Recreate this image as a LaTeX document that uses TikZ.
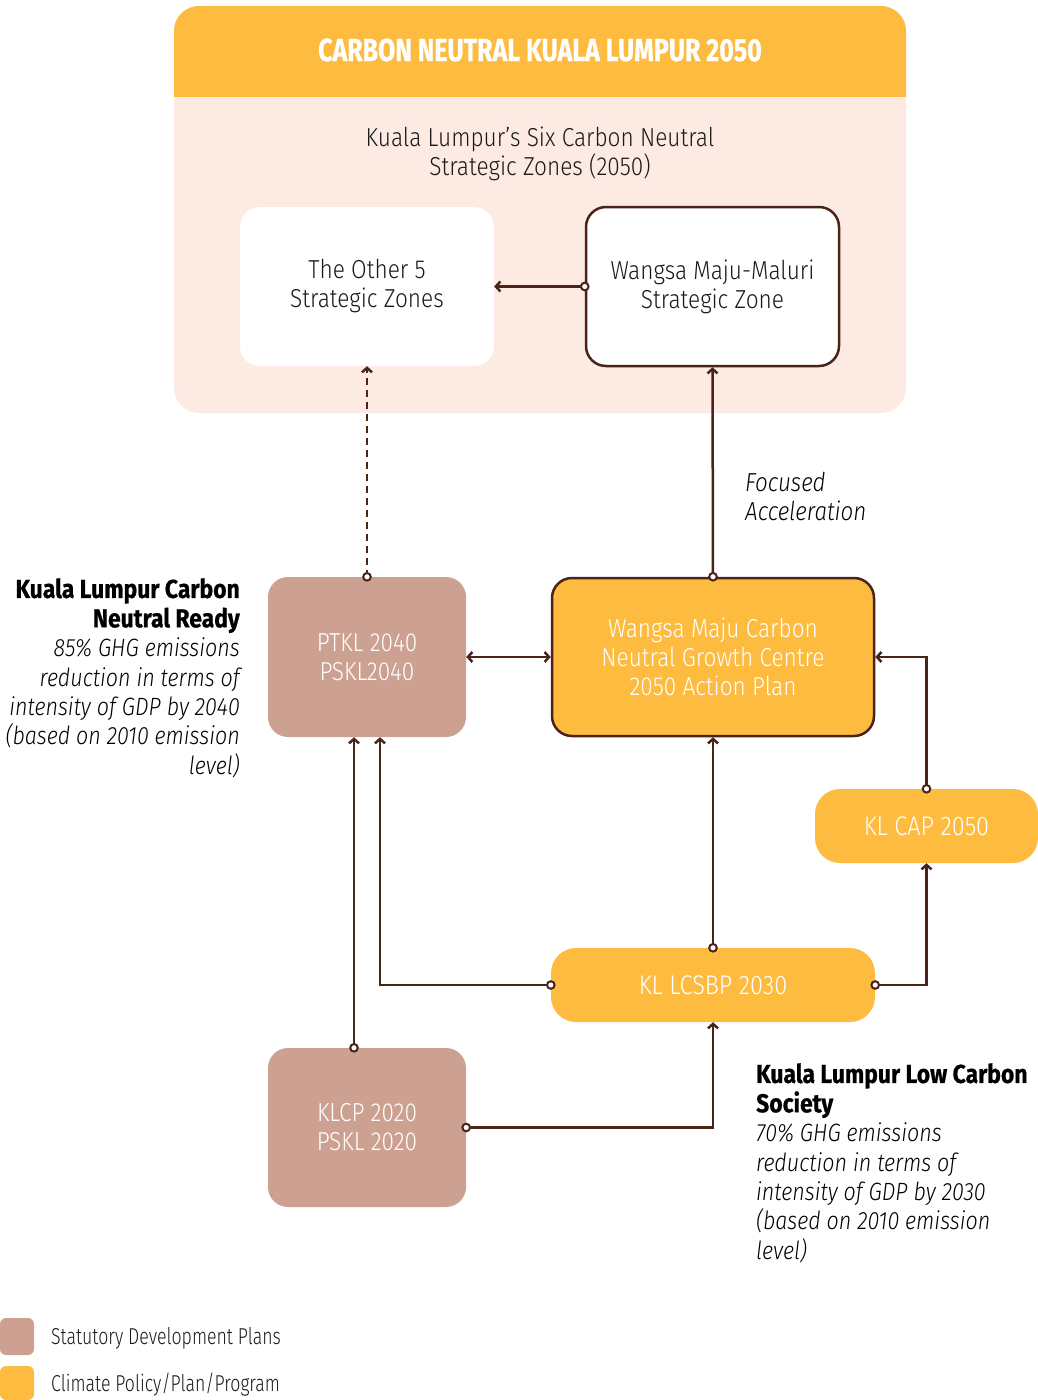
\documentclass[tikz,border=0pt]{standalone}
\usepackage{fontspec}
\setmainfont{Fira Sans}[FakeStretch=0.8]
\newfontfamily\lightf{Fira Sans Light}[FakeStretch=0.87]
\newfontfamily\legf{Fira Sans Light}[FakeStretch=0.77]
\newfontfamily\itf{Fira Sans Light}[FakeStretch=0.86]
\newfontfamily\boldf{Fira Sans}[FakeStretch=0.78, FakeBold=0.6]
\newfontfamily\notebf{Fira Sans}[FakeStretch=0.88, FakeBold=0.6]
\usetikzlibrary{arrows.meta}
\definecolor{kor}{HTML}{FDBB40}
\definecolor{ktan}{HTML}{CDA191}
\definecolor{kpink}{HTML}{FDEBE3}
\definecolor{kdark}{HTML}{4A2319}
\definecolor{ktext}{HTML}{1A1A1A}
\tikzset{
  boxtxt/.style={font=\lightf\fontsize{26}{29}\selectfont, text=white, align=center},
  statbox/.style={rectangle, rounded corners=20pt, fill=ktan, boxtxt},
  climbox/.style={rectangle, rounded corners=20pt, fill=kor, boxtxt},
  edged/.style={draw=kdark, line width=2.5pt},
  conn/.style={draw=kdark, line width=2.5pt, -{Straight Barb[length=4.5pt,width=10pt]}},
  dot/.style={draw=kdark, fill=white, line width=2pt},
}
\begin{document}
\begin{tikzpicture}[x=1pt,y=-1pt]
\useasboundingbox (0,0) rectangle (1038,1400);
% container
\fill[kpink, rounded corners=25pt] (174,6) rectangle (906,413);
\begin{scope}
\clip (170,0) rectangle (910,96);
\fill[kor, rounded corners=25pt] (174,6) rectangle (906,413);
\end{scope}
\node (title) at (540,50) {\boldf\bfseries\fontsize{32}{36}\selectfont\color{white}CARBON NEUTRAL KUALA LUMPUR 2050};
\node[font=\lightf\fontsize{26}{29}\selectfont, text=ktext, align=center] (sub) at (540,154) {Kuala Lumpur’s Six Carbon Neutral\\Strategic Zones (2050)};
% nodes
\node[rectangle, rounded corners=20pt, fill=white, boxtxt, text=ktext, minimum width=254pt, minimum height=159pt] (other5) at (367,286.5) {The Other 5\\Strategic Zones};
\node[rectangle, rounded corners=20pt, fill=white, edged, boxtxt, text=ktext, minimum width=253pt, minimum height=159pt] (wmm) at (712.5,286.5) {Wangsa Maju-Maluri\\Strategic Zone};
\node[statbox, minimum width=198pt, minimum height=160pt] (ptkl) at (367,657) {PTKL 2040\\PSKL2040};
\node[climbox, edged, minimum width=322pt, minimum height=158pt] (wmc) at (713,657) {Wangsa Maju Carbon\\Neutral Growth Centre\\2050 Action Plan};
\node[climbox, rounded corners=25pt, minimum width=223pt, minimum height=74pt, font=\lightf\fontsize{27}{29}\selectfont] (klcap) at (926.5,826) {KL CAP 2050};
\node[climbox, rounded corners=25pt, minimum width=324pt, minimum height=74pt, font=\lightf\fontsize{27}{29}\selectfont] (lcsbp) at (713,985) {KL LCSBP 2030};
\node[statbox, minimum width=198pt, minimum height=159pt] (klcp) at (367,1127.5) {KLCP 2020\\PSKL 2020};
% annotations
\node[anchor=north east, inner sep=0pt, align=right, text=black, font=\fontsize{25}{29.4}\selectfont] (leftnote) at (240,578)
 {{\notebf\bfseries\fontsize{26}{29}\selectfont Kuala Lumpur Carbon}\\{\notebf\bfseries\fontsize{26}{29}\selectfont Neutral Ready}\\
 {\itf\itshape 85\% GHG emissions}\\{\itf\itshape reduction in terms of}\\{\itf\itshape intensity of GDP by 2040}\\{\itf\itshape (based on 2010 emission}\\{\itf\itshape level)}};
\node[anchor=north west, inner sep=0pt, align=left, text=black, font=\fontsize{25}{29.4}\selectfont] (rightnote) at (756,1063)
 {{\notebf\bfseries\fontsize{26}{29}\selectfont Kuala Lumpur Low Carbon}\\{\notebf\bfseries\fontsize{26}{29}\selectfont Society}\\
 {\itf\itshape 70\% GHG emissions}\\{\itf\itshape reduction in terms of}\\{\itf\itshape intensity of GDP by 2030}\\{\itf\itshape (based on 2010 emission}\\{\itf\itshape level)}};
\node[anchor=west, inner sep=0pt, align=left, text=black, font=\itf\itshape\fontsize{26}{29}\selectfont] (focus) at (745,496.5) {Focused\\Acceleration};
% connectors
\draw[conn] (wmm.west) -- (other5.east);
\draw[conn, dash pattern=on 7pt off 5pt] (ptkl.north) -- (other5.south);
\draw[conn] (wmc.north) -- (wmm.south);
\draw[conn, {Straight Barb[length=4.5pt,width=10pt]}-{Straight Barb[length=4.5pt,width=10pt]}] (ptkl.east) -- (wmc.west);
\draw[conn] (klcap.north) |- (wmc.east);
\draw[conn] (lcsbp.north) -- (wmc.south);
\draw[conn] (lcsbp.east) -| (klcap.south);
\draw[conn] (lcsbp.west) -| ([xshift=13pt]ptkl.south);
\draw[conn] ([xshift=-13pt]klcp.north) -- ([xshift=-13pt]ptkl.south);
\draw[conn] (klcp.east) -| (lcsbp.south);
% start dots
\foreach \p in {wmm.west, ptkl.north, wmc.north, klcap.north, lcsbp.north, lcsbp.east, lcsbp.west, klcp.east}
  \draw[dot] (\p) circle (3.8pt);
\draw[dot] ([xshift=-13pt]klcp.north) circle (3.8pt);
% legend
\node[rectangle, rounded corners=6pt, fill=ktan, minimum width=34pt, minimum height=37pt, inner sep=0pt] (legstat) at (17,1336.5) {};
\node[rectangle, rounded corners=6pt, fill=kor, minimum width=34pt, minimum height=34pt, inner sep=0pt] (legclim) at (17,1383) {};
\node[anchor=west, inner sep=0pt, font=\legf\fontsize{23}{29}\selectfont, text=ktext] (legstattxt) at (51,1338) {Statutory Development Plans};
\node[anchor=west, inner sep=0pt, font=\legf\fontsize{23}{29}\selectfont, text=ktext] (legclimtxt) at (51,1385) {Climate Policy/Plan/Program};
\end{tikzpicture}
\end{document}
